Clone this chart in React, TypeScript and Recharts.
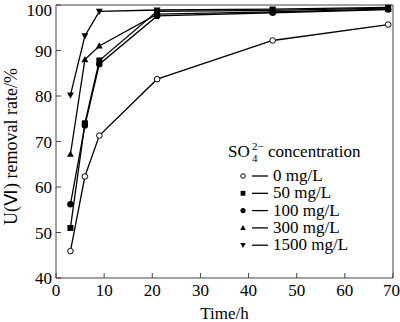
import React from 'react';
import { LineChart, Line, XAxis, YAxis, ReferenceLine, Customized } from 'recharts';

const timeH = [3, 6, 9, 21, 45, 69];
const s0 = [45.9, 62.3, 71.3, 83.7, 92.2, 95.7];
const s50 = [51.0, 74.0, 87.8, 98.6, 98.8, 99.3];
const s100 = [56.2, 73.5, 87.0, 97.6, 98.3, 99.0];
const s300 = [67.2, 88.0, 91.0, 98.0, 98.5, 99.1];
const s1500 = [80.2, 93.2, 98.6, 98.9, 99.1, 99.5];
const xTicks = [0, 10, 20, 30, 40, 50, 60, 70];
const yTicks = [40, 50, 60, 70, 80, 90, 100];
const legendTitle = 'concentration';

type Shape = 'ocircle' | 'square' | 'circle' | 'up' | 'down';
const series: { key: string; name: string; values: number[]; shape: Shape }[] = [
  { key: 's0', name: '0 mg/L', values: s0, shape: 'ocircle' },
  { key: 's50', name: '50 mg/L', values: s50, shape: 'square' },
  { key: 's100', name: '100 mg/L', values: s100, shape: 'circle' },
  { key: 's300', name: '300 mg/L', values: s300, shape: 'up' },
  { key: 's1500', name: '1500 mg/L', values: s1500, shape: 'down' },
];

const data = timeH.map((t, i) => {
  const row: Record<string, number> = { t };
  series.forEach((s) => (row[s.key] = s.values[i]));
  return row;
});

const FONT = 'Liberation Serif';
const AXIS = '#444';
const fstyle = { fontFamily: FONT };

function Marker({ shape, cx, cy, k = 1 }: { shape: Shape; cx: number; cy: number; k?: number }) {
  if (cx == null || cy == null) return null;
  switch (shape) {
    case 'ocircle':
      return <circle cx={cx} cy={cy} r={2.8 * k} fill="#fff" stroke="#000" strokeWidth={1} />;
    case 'square':
      return <rect x={cx - 3 * k} y={cy - 3 * k} width={6 * k} height={6 * k} fill="#000" />;
    case 'circle':
      return <circle cx={cx} cy={cy} r={3.2 * k} fill="#000" />;
    case 'up':
      return (
        <polygon
          points={`${cx},${cy - 3.6 * k} ${cx - 3.4 * k},${cy + 2.6 * k} ${cx + 3.4 * k},${cy + 2.6 * k}`}
          fill="#000"
        />
      );
    case 'down':
      return (
        <polygon
          points={`${cx},${cy + 3.6 * k} ${cx - 3.4 * k},${cy - 2.6 * k} ${cx + 3.4 * k},${cy - 2.6 * k}`}
          fill="#000"
        />
      );
  }
  return null;
}

function LegendBox() {
  const mx = 243;
  const y0 = 176;
  const dy = 17.3;
  return (
    <g style={fstyle} fill="#000">
      <text x={228} y={157} fontSize={17} style={fstyle}>SO</text>
      <text x={252} y={162} fontSize={11} style={fstyle}>4</text>
      <text x={252} y={150} fontSize={11} style={fstyle}>2−</text>
      <text x={268} y={157} fontSize={17} style={fstyle}>{legendTitle}</text>
      {series.map((s, i) => {
        const y = y0 + i * dy;
        return (
          <g key={s.key}>
            <Marker shape={s.shape} cx={mx} cy={y} k={0.8} />
            <line x1={252} x2={268} y1={y} y2={y} stroke="#000" strokeWidth={1.3} />
            <text x={273} y={y + 5} fontSize={17} style={fstyle}>{s.name}</text>
          </g>
        );
      })}
    </g>
  );
}

function YLabel(props: any) {
  const vb = props.viewBox || { x: 0, y: 0, width: 0, height: 0 };
  const cx = 11;
  const cy = vb.y + vb.height / 2 + 5;
  return (
    <text
      x={cx}
      y={cy}
      transform={`rotate(-90 ${cx} ${cy})`}
      textAnchor="middle"
      dominantBaseline="central"
      style={fstyle}
      fontSize={18}
      fill="#000"
    >
      U(Ⅵ) removal rate/%
    </text>
  );
}

export default function App() {
  return (
    <div style={{ position: 'absolute', left: 0, top: 0, width: 400, height: 322, background: '#fff', fontFamily: FONT }}>
      <LineChart width={400} height={322} data={data} margin={{ top: 5, right: 7, bottom: 0, left: 0 }} style={fstyle}>
        <XAxis
          dataKey="t"
          type="number"
          domain={[0, 70]}
          ticks={xTicks}
          height={44}
          stroke={AXIS}
          tickSize={-5}
          tickMargin={11}
          tick={{ fontSize: 17, fill: '#000', style: fstyle }}
          tickLine={{ stroke: AXIS }}
          label={{ value: 'Time/h', position: 'insideBottom', offset: 3, fontSize: 17, fill: '#000', style: fstyle }}
        />
        <YAxis
          type="number"
          domain={[40, 100]}
          ticks={yTicks}
          width={56}
          stroke={AXIS}
          tickSize={-5}
          tickMargin={9}
          tick={{ fontSize: 17, fill: '#000', style: fstyle }}
          tickLine={{ stroke: AXIS }}
          label={<YLabel />}
        />
        <ReferenceLine y={100} stroke={AXIS} strokeWidth={1} />
        <ReferenceLine x={70} stroke={AXIS} strokeWidth={1} />
        {series.map((s) => (
          <Line
            key={s.key}
            dataKey={s.key}
            name={s.name}
            stroke="#000"
            strokeWidth={1.3}
            isAnimationActive={false}
            dot={(p: any) => <Marker key={`${s.key}-${p.index}`} shape={s.shape} cx={p.cx} cy={p.cy} />}
            activeDot={false}
          />
        ))}
        <Customized component={LegendBox} />
      </LineChart>
    </div>
  );
}
